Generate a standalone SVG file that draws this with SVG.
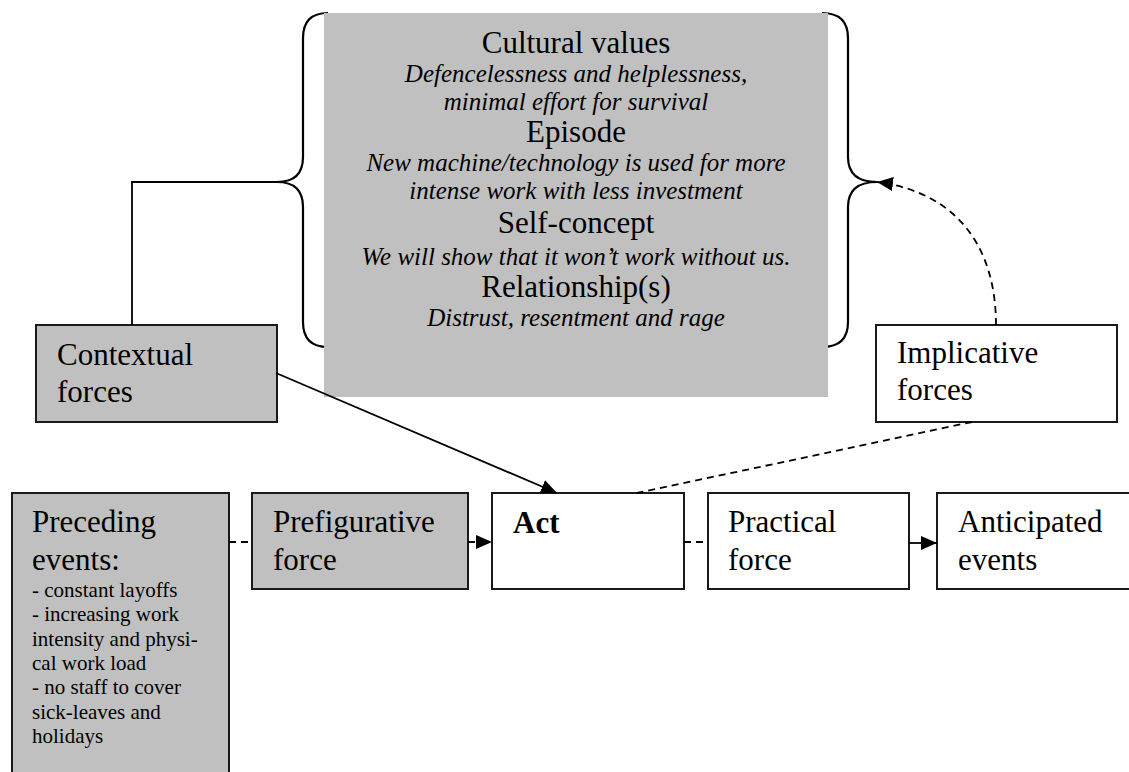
<svg xmlns="http://www.w3.org/2000/svg" width="1129" height="772" viewBox="0 0 1129 772">
  <style>
    .box { stroke: #1a1a1a; stroke-width: 2; }
    .grey { fill: #c0c0c0; }
    .white { fill: #ffffff; }
    .brace { fill: none; stroke: #000; stroke-width: 2.2; }
    .line { fill: none; stroke: #000; stroke-width: 1.8; }
    .dash { stroke-dasharray: 7 5; }
    text { font-family: "Liberation Serif", "Times New Roman", serif; fill: #000; }
    .big { font-size: 31px; }
    .head { font-size: 31px; text-anchor: middle; }
    .it { font-size: 25px; font-style: italic; text-anchor: middle; }
    .small { font-size: 21px; }
  </style>
  <defs>
    <marker id="arrow" viewBox="0 0 16 14" refX="16" refY="7" markerWidth="16" markerHeight="14" markerUnits="userSpaceOnUse" orient="auto">
      <path d="M0,0 L16,7 L0,14 Z" fill="#000"/>
    </marker>
  </defs>

  <rect width="1129" height="772" fill="#fff"/>

  <!-- curly braces around the central block -->
  <g id="braces">
    <path class="brace" d="M328,13 Q303,13 303,38 L303,157 Q303,182 277,182 Q303,182 303,207 L303,322 Q303,347 328,347"/>
    <path class="brace" d="M822,13 Q848,13 848,38 L848,157 Q848,182 877,182 Q848,182 848,207 L848,322 Q848,347 822,347"/>
  </g>

  <!-- central block: cultural values, episode, self-concept, relationships -->
  <g id="context-block">
    <rect class="grey" x="324" y="13" width="504" height="384"/>
    <text class="head" x="576" y="53">Cultural values</text>
    <text class="it" x="576" y="82">Defencelessness and helplessness,</text>
    <text class="it" x="576" y="110">minimal effort for survival</text>
    <text class="head" x="576" y="142">Episode</text>
    <text class="it" x="576" y="171">New machine/technology is used for more</text>
    <text class="it" x="576" y="199">intense work with less investment</text>
    <text class="head" x="576" y="233">Self-concept</text>
    <text class="it" x="576" y="265">We will show that it won’t work without us.</text>
    <text class="head" x="576" y="297">Relationship(s)</text>
    <text class="it" x="576" y="326">Distrust, resentment and rage</text>
  </g>

  <g id="contextual">
    <rect class="box grey" x="36" y="325" width="241" height="97"/>
    <text class="big" x="57" y="365">Contextual</text>
    <text class="big" x="57" y="402">forces</text>
  </g>

  <g id="implicative">
    <rect class="box white" x="876" y="325" width="241" height="97"/>
    <text class="big" x="897" y="363">Implicative</text>
    <text class="big" x="897" y="400">forces</text>
  </g>

  <g id="preceding">
    <rect class="box grey" x="12" y="493" width="217" height="290"/>
    <text class="big" x="32" y="532">Preceding</text>
    <text class="big" x="32" y="570">events:</text>
    <text class="small" x="32" y="597">- constant layoffs</text>
    <text class="small" x="32" y="621">- increasing work</text>
    <text class="small" x="32" y="646">intensity and physi-</text>
    <text class="small" x="32" y="670">cal work load</text>
    <text class="small" x="32" y="694">- no staff to cover</text>
    <text class="small" x="32" y="719">sick-leaves and</text>
    <text class="small" x="32" y="743">holidays</text>
  </g>

  <g id="prefigurative">
    <rect class="box grey" x="252" y="493" width="216" height="96"/>
    <text class="big" x="273" y="532">Prefigurative</text>
    <text class="big" x="273" y="570">force</text>
  </g>

  <g id="act">
    <rect class="box white" x="492" y="493" width="192" height="96"/>
    <text class="big" x="513" y="533" font-weight="bold">Act</text>
  </g>

  <g id="practical">
    <rect class="box white" x="708" y="493" width="201" height="96"/>
    <text class="big" x="728" y="532">Practical</text>
    <text class="big" x="728" y="570">force</text>
  </g>

  <g id="anticipated">
    <rect class="box white" x="937" y="493" width="200" height="96"/>
    <text class="big" x="958" y="532">Anticipated</text>
    <text class="big" x="958" y="570">events</text>
  </g>

  <g id="connectors">
    <polyline class="line" points="277,182 132,182 132,325"/>
    <line class="line" x1="276" y1="373" x2="557" y2="493" marker-end="url(#arrow)"/>
    <line class="line dash" x1="972" y1="422" x2="637" y2="493"/>
    <path class="line dash" d="M996,325 C996,245 955,192 877,182" marker-end="url(#arrow)"/>
    <line class="line dash" x1="229" y1="542" x2="252" y2="542"/>
    <line class="line dash" x1="468" y1="542" x2="492" y2="542" marker-end="url(#arrow)"/>
    <line class="line dash" x1="684" y1="542" x2="708" y2="542"/>
    <line class="line" x1="909" y1="543" x2="937" y2="543" marker-end="url(#arrow)"/>
  </g>
</svg>
